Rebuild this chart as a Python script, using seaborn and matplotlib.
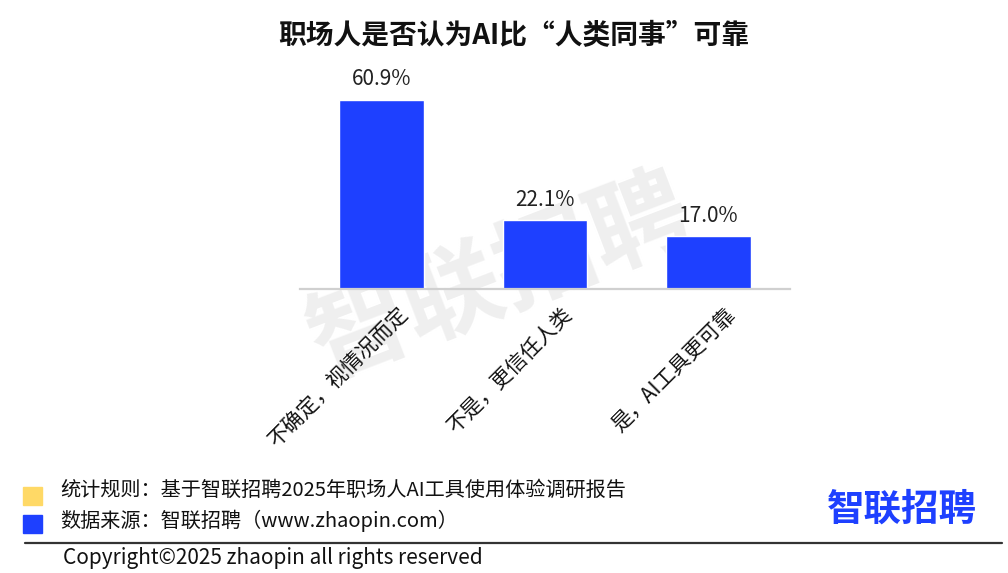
import numpy as np
import pandas as pd
import matplotlib
matplotlib.use('Agg')
import matplotlib.pyplot as plt
import matplotlib.transforms as mtransforms
from matplotlib.patches import Rectangle
from matplotlib.lines import Line2D
import seaborn as sns

# data
categories = ['不确定，视情况而定', '不是，更信任人类', '是，AI工具更可靠']
values = [60.9, 22.1, 17.0]
value_labels = ['60.9%', '22.1%', '17.0%']

title = '职场人是否认为AI比“人类同事”可靠'
rule_text = '统计规则：基于智联招聘2025年职场人AI工具使用体验调研报告'
source_text = '数据来源：智联招聘（www.zhaopin.com）'
copyright_text = 'Copyright©2025 zhaopin all rights reserved'

blue = '#1E40FF'
yellow = '#FFD966'

sns.set_style('white')
plt.rcParams['font.family'] = ['Noto Sans CJK SC', 'DejaVu Sans']

df = pd.DataFrame({'cat': categories, 'val': values})

fig = plt.figure(figsize=(10.08, 5.73), dpi=100)
ax = fig.add_axes([300 / 1008, 1 - 289 / 573, 490 / 1008, (289 - 71.7) / 573])
ax.patch.set_alpha(0)

sns.barplot(data=df, x='cat', y='val', color=blue, saturation=1, width=0.52, ax=ax, zorder=2)

ax.set_xlim(-0.5, 2.5)
ax.set_ylim(0, 70)
ax.set_xlabel('')
ax.set_ylabel('')
ax.set_yticks([])
for s in ['top', 'right', 'left']:
    ax.spines[s].set_visible(False)
ax.spines['bottom'].set_color('#d0d0d0')
ax.spines['bottom'].set_linewidth(1.6)
ax.tick_params(axis='x', length=0)

# value labels
for i, (v, lab) in enumerate(zip(values, value_labels)):
    ax.annotate(lab, (i, v), xytext=(0, 7), textcoords='offset points',
                ha='center', va='bottom', fontsize=15, color='#222222')

# rotated tick labels
ax.set_xticks(range(len(categories)))
ax.set_xticklabels(categories, rotation=45, ha='right', rotation_mode='anchor',
                   fontsize=15, color='#111111')
offset = mtransforms.ScaledTranslation(16 / 100, -10 / 100, fig.dpi_scale_trans)
for t in ax.get_xticklabels():
    t.set_transform(t.get_transform() + offset)

# watermark
fig.text(500 / 1008, 1 - 278 / 573, '智联招聘', fontsize=72, fontweight='bold',
         color='#efefef', rotation=21, ha='center', va='center', zorder=0)
ax.set_zorder(1)

# title
fig.text(514 / 1008, 1 - 36 / 573, title, fontsize=20, fontweight='bold',
         ha='center', va='center', color='#111111')

# footer legend squares and text
fig.patches.append(Rectangle((23 / 1008, 1 - 505 / 573), 19 / 1008, 18 / 573,
                             transform=fig.transFigure, color=yellow))
fig.patches.append(Rectangle((23 / 1008, 1 - 533 / 573), 19 / 1008, 18 / 573,
                             transform=fig.transFigure, color=blue))
fig.text(60 / 1008, 1 - 490 / 573, rule_text, fontsize=14.5, va='center', color='#111111')
fig.text(60 / 1008, 1 - 521 / 573, source_text, fontsize=14.5, va='center', color='#111111')

# logo
fig.text(977 / 1008, 1 - 509 / 573, '智联招聘', fontsize=27, fontweight='bold',
         ha='right', va='center', color=blue)

# separator line and copyright
fig.lines.append(Line2D([25 / 1008, 1002 / 1008], [1 - 543 / 573, 1 - 543 / 573],
                        transform=fig.transFigure, color='#333333', linewidth=1.6))
fig.text(63 / 1008, 1 - 558 / 573, copyright_text, fontsize=15, va='center', color='#111111')

fig.savefig('out.png', dpi=100)
